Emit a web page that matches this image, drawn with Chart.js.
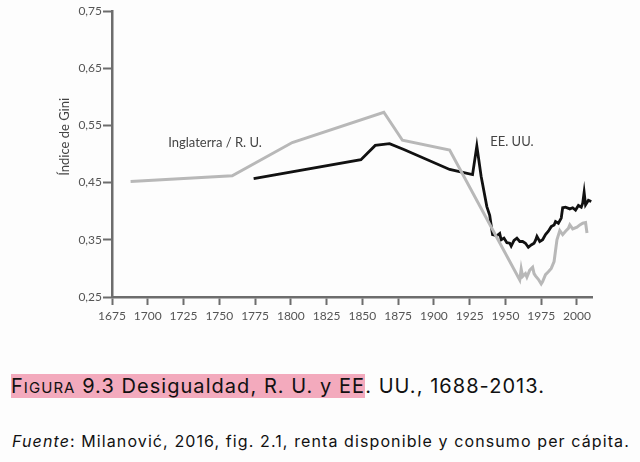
<!DOCTYPE html>
<html>
<head>
<meta charset="utf-8">
<script src="https://cdn.jsdelivr.net/npm/chart.js@4"></script>
<style>
  html, body { margin: 0; padding: 0; background: #fdfdfd; }
  #wrap { position: relative; width: 640px; height: 462px; overflow: hidden; }
  #chart-box { position: absolute; left: 0; top: 0; width: 640px; height: 340px; }
  .caption { position: absolute; left: 12px; font-family: Inter, "Liberation Sans", sans-serif; color: #111; white-space: nowrap; }
  #fig-title { top: 373px; font-size: 20px; line-height: 27px; left: 11px; letter-spacing: 1.05px; }
  #fig-title .hl { background: #f3aabd; }
  #fig-title .sc { font-size: 15px; }
  #fig-source { top: 431px; font-size: 16px; line-height: 20px; letter-spacing: 1.1px; }
</style>
</head>
<body>
<div id="wrap">
  <div id="chart-box"><canvas id="giniChart" width="640" height="340"></canvas></div>
  <div class="caption" id="fig-title"><span class="hl">F<span class="sc">IGURA</span> 9.3 Desigualdad, R. U. y EE</span>. UU., 1688-2013.</div>
  <div class="caption" id="fig-source"><i>Fuente</i>: Milanović, 2016, fig. 2.1, renta disponible y consumo per cápita.</div>
</div>
<script>
// Chart data
const ukYears = [1688, 1759, 1801, 1865, 1878, 1911, 1960, 1961, 1962, 1964, 1965, 1967, 1969, 1970, 1971, 1973, 1975, 1976, 1978, 1980, 1982, 1984, 1986, 1988, 1990, 1992, 1994, 1995, 1997, 2000, 2002, 2004, 2006, 2007];
const ukGini = [0.452, 0.462, 0.520, 0.573, 0.524, 0.507, 0.280, 0.299, 0.286, 0.291, 0.285, 0.297, 0.302, 0.291, 0.287, 0.281, 0.273, 0.277, 0.289, 0.294, 0.300, 0.312, 0.350, 0.366, 0.359, 0.365, 0.370, 0.376, 0.369, 0.372, 0.376, 0.379, 0.380, 0.362];

const usYears = [1774, 1849, 1853, 1859, 1869, 1879, 1911, 1927, 1930, 1933, 1937, 1939, 1941, 1944, 1946, 1947, 1949, 1951, 1953, 1954, 1956, 1958, 1960, 1962, 1964, 1966, 1968, 1970, 1971, 1972, 1974, 1976, 1978, 1980, 1982, 1984, 1985, 1987, 1989, 1990, 1992, 1995, 1997, 1999, 2001, 2003, 2004, 2005, 2006, 2008, 2010];
const usGini = [0.457, 0.490, 0.500, 0.515, 0.518, 0.508, 0.473, 0.464, 0.514, 0.461, 0.408, 0.393, 0.359, 0.357, 0.361, 0.350, 0.353, 0.345, 0.344, 0.339, 0.349, 0.353, 0.347, 0.347, 0.344, 0.337, 0.341, 0.344, 0.349, 0.356, 0.347, 0.350, 0.359, 0.365, 0.373, 0.376, 0.382, 0.379, 0.388, 0.406, 0.407, 0.404, 0.406, 0.402, 0.410, 0.407, 0.414, 0.433, 0.411, 0.419, 0.417];

const xTicks = [1675, 1700, 1725, 1750, 1775, 1800, 1825, 1850, 1875, 1900, 1925, 1950, 1975, 2000];
const yTicks = [0.25, 0.35, 0.45, 0.55, 0.65, 0.75];

// Series labels placed in the plot: [text, year, gini]
const seriesLabels = [
  ['Inglaterra / R. U.', 1747, 0.519],
  ['EE. UU.', 1954.5, 0.521]
];
const yTitle = 'Índice de Gini';

const axisColor = '#6d6d6d';
const labelColor = '#555';
const tickFont = { family: 'Lato, "Open Sans", sans-serif', size: 12 };

function toPoints(xs, ys) {
  return xs.map((x, i) => ({ x: x, y: ys[i] }));
}

// Draws the in-plot series names and the rotated y title
const annotationPlugin = {
  id: 'annotations',
  afterDraw(chart) {
    const ctx = chart.ctx;
    const xs = chart.scales.x;
    const ys = chart.scales.y;
    ctx.save();
    ctx.fillStyle = '#444';
    ctx.font = '13px Lato, "Open Sans", sans-serif';
    ctx.textAlign = 'center';
    ctx.textBaseline = 'middle';
    seriesLabels.forEach(([text, yr, g]) => {
      ctx.fillText(text, xs.getPixelForValue(yr), ys.getPixelForValue(g));
    });
    ctx.translate(65, ys.getPixelForValue(0.53));
    ctx.rotate(-Math.PI / 2);
    ctx.fillText(yTitle, 0, 0);
    ctx.restore();
  }
};

const ctx = document.getElementById('giniChart').getContext('2d');
new Chart(ctx, {
  type: 'line',
  data: {
    datasets: [
      {
        label: 'Inglaterra / R.U.',
        data: toPoints(ukYears, ukGini),
        borderColor: '#b8b8b8',
        borderWidth: 3,
        pointRadius: 0,
        tension: 0
      },
      {
        label: 'EE. UU.',
        data: toPoints(usYears, usGini),
        borderColor: '#111',
        borderWidth: 2.8,
        pointRadius: 0,
        tension: 0
      }
    ]
  },
  options: {
    responsive: false,
    animation: false,
    layout: { padding: { top: 11, right: 48, left: 0, bottom: 0 } },
    plugins: {
      legend: { display: false },
      tooltip: { enabled: false }
    },
    scales: {
      x: {
        type: 'linear',
        min: 1675,
        max: 2010.5,
        afterBuildTicks: axis => { axis.ticks = xTicks.map(v => ({ value: v })); },
        afterFit: scale => { scale.height = 43; },
        ticks: {
          color: labelColor,
          font: tickFont,
          padding: 4,
          maxRotation: 0,
          autoSkip: false,
          callback: v => String(v)
        },
        grid: {
          drawOnChartArea: false,
          drawTicks: true,
          tickLength: 8,
          tickWidth: 2,
          color: axisColor
        },
        border: { color: axisColor, width: 2.5 }
      },
      y: {
        min: 0.25,
        max: 0.75,
        afterBuildTicks: axis => { axis.ticks = yTicks.map(v => ({ value: v })); },
        afterFit: scale => { scale.width = 112; },
        ticks: {
          color: labelColor,
          font: tickFont,
          padding: 1,
          callback: v => v.toFixed(2).replace('.', ',')
        },
        grid: {
          drawOnChartArea: false,
          drawTicks: true,
          tickLength: 9,
          tickWidth: 2,
          color: axisColor
        },
        border: { color: axisColor, width: 2.5 }
      }
    }
  },
  plugins: [annotationPlugin]
});
</script>
</body>
</html>
